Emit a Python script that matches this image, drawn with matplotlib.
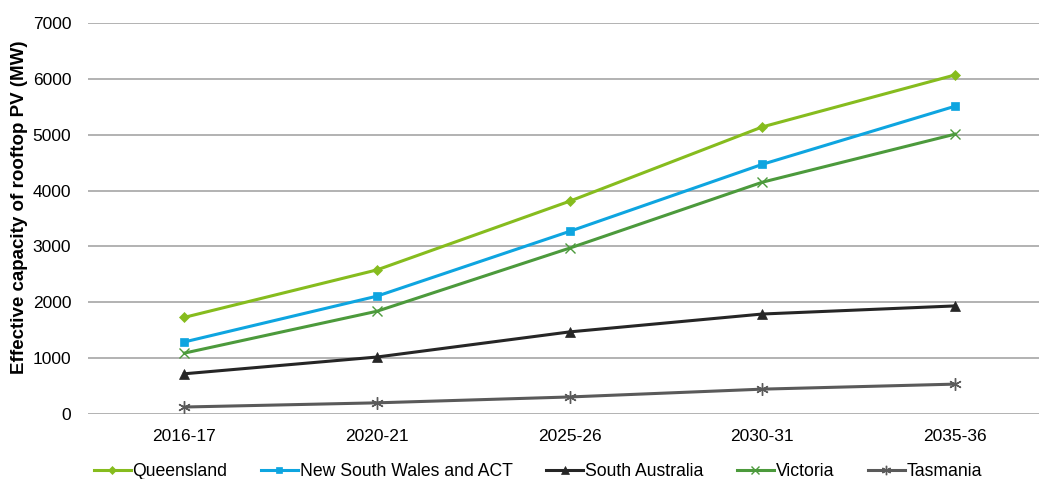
import matplotlib.pyplot as plt

plt.rcParams['font.family'] = ['Liberation Sans', 'DejaVu Sans']

years = ["2016-17", "2020-21", "2025-26", "2030-31", "2035-36"]
queensland = [1730, 2580, 3810, 5140, 6070]
nsw_act = [1290, 2110, 3270, 4470, 5510]
south_australia = [720, 1020, 1470, 1790, 1935]
victoria = [1090, 1840, 2970, 4150, 5010]
tasmania = [125, 200, 305, 445, 535]

fig = plt.figure(figsize=(10.39, 4.79), dpi=100)
ax = fig.add_axes([88 / 1039, 65 / 479, 951 / 1039, 391 / 479])

x = range(len(years))
series = [
    ("Queensland", queensland, "#86BC1E", "D", 5),
    ("New South Wales and ACT", nsw_act, "#0EA5E0", "s", 6),
    ("South Australia", south_australia, "#262626", "^", 7),
    ("Victoria", victoria, "#4C9A3C", "x", 7),
    ("Tasmania", tasmania, "#5A5A5A", (6, 2, 0), 9),
]
for name, vals, col, mk, ms in series:
    ax.plot(x, vals, color=col, marker=mk, markersize=ms, linewidth=2.2,
            markeredgewidth=1 if mk in ("x", (6, 2, 0)) else 0.5, label=name)

ax.set_xlim(-0.5, (1039 - 184) / 192.75)
ax.set_ylim(0, 7000)
ax.set_yticks(range(0, 7001, 1000))
ax.set_xticks(list(x))
ax.set_xticklabels(years)
ax.yaxis.grid(True, color="#A6A6A6", linewidth=1.2)
ax.set_axisbelow(True)
for s in ax.spines.values():
    s.set_visible(False)
ax.tick_params(length=0, labelsize=12.5, colors="#000000", pad=11)
ax.tick_params(axis="y", pad=12)
ax.set_ylabel("Effective capacity of rooftop PV (MW)", fontsize=13.5,
              fontweight="bold")
ax.yaxis.set_label_coords(-0.063, 0.53)

ax.legend(loc="upper center", bbox_to_anchor=(0.473, -0.085), ncol=5,
          frameon=False, fontsize=12.7, handlelength=2.1, columnspacing=1.9,
          handletextpad=0.1, markerscale=0.75)

fig.savefig("out.png", dpi=100)
